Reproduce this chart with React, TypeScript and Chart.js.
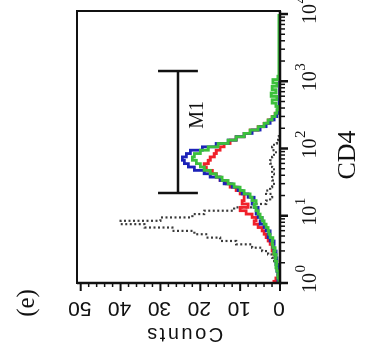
import { useEffect, useRef } from "react";
import { Chart, registerables } from "chart.js";

Chart.register(...registerables);

// CD4 channel positions (decimal exponents of the log axis)
const cd4Exp = [0, 0.05, 0.1, 0.15, 0.2, 0.25, 0.3, 0.35, 0.4, 0.45, 0.5, 0.55, 0.6, 0.65, 0.7, 0.75, 0.8, 0.85, 0.9, 0.95, 1, 1.05, 1.1, 1.15, 1.2, 1.25, 1.3, 1.35, 1.4, 1.45, 1.5, 1.55, 1.6, 1.65, 1.7, 1.75, 1.8, 1.85, 1.9, 1.95, 2, 2.05, 2.1, 2.15, 2.2, 2.25, 2.3, 2.35, 2.4, 2.45, 2.5, 2.55, 2.6, 2.65, 2.7, 2.75, 2.8, 2.85, 2.9, 2.95, 3, 3.05, 3.1, 3.15, 3.2, 3.4, 3.6, 3.8, 4];

const blueCounts = [0.3, 0.5, 0.3, 0.5, 0.8, 0.5, 1, 0.8, 1.2, 1, 1.5, 1.8, 1.5, 2.5, 3, 2.5, 3.5, 4, 5, 4.5, 5.5, 6, 5.5, 6.5, 7, 6.5, 8, 9.5, 10.5, 12, 14, 15, 17.5, 19, 21.5, 23, 24, 24.5, 23.5, 22.5, 19.5, 16, 13, 11, 9, 7, 5, 3.5, 2.5, 1.5, 0.8, 0.5, 0.3, 0.2, 0.2, 0.1, 0.1, 0.1, 0.1, 0.1, 0.1, 0.1, 0.1, 0.1, 0.1, 0.1, 0.1, 0.1, 0.1];

const greenCounts = [0, 0.3, 0.5, 0.3, 0.8, 1, 0.8, 1.2, 1, 1.5, 1.2, 1.8, 2, 1.8, 2.5, 2.8, 3, 3.5, 4, 4.5, 5, 5.5, 6, 6.5, 6, 7, 7.5, 9, 10, 11.5, 13, 14.5, 16, 17.5, 19, 20, 21, 22, 21.5, 20, 18, 15.5, 13, 11, 9, 7.5, 5.5, 4, 3, 2, 1.2, 0.8, 0.5, 1, 2, 0.8, 2.2, 1, 2, 0.8, 1.8, 0.5, 0.3, 0.3, 0.3, 0.3, 0.3, 0.3, 0.3];

const redCounts = [1.5, 1, 0.5, 0.3, 0.5, 0.5, 0.8, 1, 1.2, 1.5, 2, 2, 2.5, 3, 3.5, 4, 4.5, 5.5, 6.5, 6, 7, 8.5, 10, 8, 9.5, 9, 9, 10, 11, 12.5, 13.5, 15, 16, 17, 18.5, 19, 18, 17.5, 16.5, 16, 15, 14, 12.5, 11, 9, 7.5, 5.5, 4, 3, 2, 1.2, 0.5, 0.3, 0.1, 0.1, 0.1, 0.1, 0.1, 0.1, 0.1, 0.1, 0.1, 0.1, 0.1, 0.1, 0.1, 0.1, 0.1, 0.1];

const controlCounts = [0, 0, 0, 0.3, 0.5, 0.8, 1, 1.5, 2, 3, 4.5, 7, 11, 15, 18.5, 21.5, 27, 34, 40, 30, 22, 19, 11.5, 6, 3.5, 2.5, 2, 3.5, 2.5, 2, 1.5, 2, 1.5, 2, 1.5, 2, 2.5, 2, 1.5, 1, 2, 1.5, 0.8, 0.5, 0.3, 0, 0, 0, 0, 0, 0, 0, 0, 0, 0, 0, 0, 0, 0, 0, 0, 0, 0, 0, 0, 0, 0, 0, 0];

// Axes
const countTicks = [0, 10, 20, 30, 40, 50];
const countMinorTicks = [2, 4, 6, 8, 12, 14, 16, 18, 22, 24, 26, 28, 32, 34, 36, 38, 42, 44, 46, 48];
const cd4Decades = [1, 10, 100, 1000, 10000];
const cd4DecadeExp = ["0", "1", "2", "3", "4"];
const cd4MinorTicks = [2, 3, 4, 5, 6, 7, 8, 9, 20, 30, 40, 50, 60, 70, 80, 90, 200, 300, 400, 500, 600, 700, 800, 900, 2000, 3000, 4000, 5000, 6000, 7000, 8000, 9000];

// M1 marker
const m1Range = [21.8, 1420];
const m1Count = 25.6;
const m1CapCounts = [20.6, 30.6];
const m1LabelPos = [316, 19.3];

const W = 361;
const H = 371;

const toPoints = (vals: number[]) => vals.map((v, i) => ({ x: Math.pow(10, cd4Exp[i]), y: v }));

const flowAxes = {
  id: "flowAxes",
  afterDraw(chart: any) {
    const { ctx, chartArea: a, scales } = chart;
    const xs = scales.x;
    const ys = scales.y;
    const seg = (x1: number, y1: number, x2: number, y2: number) => {
      ctx.beginPath();
      ctx.moveTo(x1, y1);
      ctx.lineTo(x2, y2);
      ctx.stroke();
    };
    ctx.save();
    ctx.strokeStyle = "#111";
    ctx.fillStyle = "#111";
    // frame
    ctx.lineWidth = 2;
    ctx.strokeRect(a.left, a.top, a.right - a.left, a.bottom - a.top);
    ctx.lineWidth = 2.5;
    seg(a.left, a.top, a.left, a.bottom + 1.25);
    seg(a.left - 1.25, a.bottom, a.right, a.bottom);

    // count ticks
    ctx.lineWidth = 1.5;
    countMinorTicks.forEach((v) => {
      const p = ys.getPixelForValue(v);
      seg(a.left - 4, p, a.left, p);
    });
    ctx.lineWidth = 2;
    countTicks.forEach((v) => {
      const p = ys.getPixelForValue(v);
      seg(a.left - 8, p, a.left, p);
    });
    ctx.font = '21px "Liberation Sans", Arial, sans-serif';
    ctx.textAlign = "center";
    ctx.textBaseline = "alphabetic";
    countTicks.forEach((v) => {
      const p = ys.getPixelForValue(v);
      ctx.save();
      ctx.translate(a.left - 19, p - 1);
      ctx.rotate(-Math.PI / 2);
      ctx.fillText(String(v), 0, 0);
      ctx.restore();
    });
    // Counts title
    ctx.save();
    ctx.font = '20px "Liberation Sans", Arial, sans-serif';
    (ctx as any).letterSpacing = "2.5px";
    ctx.translate(a.left - 45, a.top + 107);
    ctx.rotate(-Math.PI / 2);
    ctx.fillText("Counts", 0, 0);
    ctx.restore();

    // CD4 ticks
    ctx.lineWidth = 1.5;
    cd4MinorTicks.forEach((v) => {
      const p = xs.getPixelForValue(v);
      seg(p, a.bottom, p, a.bottom + 5);
    });
    ctx.lineWidth = 2.5;
    cd4Decades.forEach((v) => {
      const p = xs.getPixelForValue(v);
      seg(p, a.bottom, p, a.bottom + 8);
    });
    cd4Decades.forEach((v, i) => {
      const p = xs.getPixelForValue(v);
      ctx.font = '20px "Liberation Serif", "Times New Roman", serif';
      ctx.textAlign = "center";
      const w = ctx.measureText("10").width;
      ctx.fillText("10", p, a.bottom + 36);
      ctx.font = '15px "Liberation Serif", "Times New Roman", serif';
      ctx.textAlign = "left";
      ctx.fillText(cd4DecadeExp[i], p + w / 2 + 0.5, a.bottom + 25);
    });
    ctx.font = '26px "Liberation Serif", "Times New Roman", serif';
    ctx.textAlign = "center";
    ctx.fillText("CD4", a.left + 128, a.bottom + 75);

    // M1 marker
    ctx.lineWidth = 2.5;
    const mx1 = xs.getPixelForValue(m1Range[0]);
    const mx2 = xs.getPixelForValue(m1Range[1]);
    const my = ys.getPixelForValue(m1Count);
    seg(mx1, my, mx2, my);
    [mx1, mx2].forEach((px) => seg(px, ys.getPixelForValue(m1CapCounts[0]), px, ys.getPixelForValue(m1CapCounts[1])));
    ctx.font = '20px "Liberation Serif", "Times New Roman", serif';
    ctx.textAlign = "center";
    ctx.fillText("M1", xs.getPixelForValue(m1LabelPos[0]), ys.getPixelForValue(m1LabelPos[1]));

    // panel label
    ctx.font = '25px "Liberation Serif", "Times New Roman", serif';
    ctx.textBaseline = "middle";
    ctx.fillText("(e)", 58, 27);
    ctx.restore();
  },
};

export default function App() {
  const ref = useRef<HTMLCanvasElement>(null);
  useEffect(() => {
    const chart = new Chart(ref.current as HTMLCanvasElement, {
      type: "line",
      data: {
        datasets: [
          {
            label: "Control",
            data: toPoints(controlCounts),
            borderColor: "#3a3a3a",
            borderWidth: 2.2,
            borderDash: [2, 2.5],
            stepped: "middle",
            pointRadius: 0,
            order: 3,
          },
          {
            label: "Red",
            data: toPoints(redCounts),
            borderColor: "#f0202a",
            borderWidth: 2.8,
            stepped: "middle",
            pointRadius: 0,
            order: 2,
          },
          {
            label: "Blue",
            data: toPoints(blueCounts),
            borderColor: "#1c22b8",
            borderWidth: 2.8,
            stepped: "middle",
            pointRadius: 0,
            order: 1,
          },
          {
            label: "Green",
            data: toPoints(greenCounts),
            borderColor: "#3cc03c",
            borderWidth: 2.8,
            stepped: "middle",
            pointRadius: 0,
            order: 0,
          },
        ],
      },
      options: {
        animation: false,
        responsive: false,
        events: [],
        layout: { padding: { left: 78, right: 11, top: 77, bottom: 91 } },
        plugins: { legend: { display: false }, tooltip: { enabled: false } },
        scales: {
          x: { type: "logarithmic", min: 1, max: 11090, display: false },
          y: { type: "linear", min: 0, max: 50.93, display: false },
        },
      },
      plugins: [flowAxes],
    });
    return () => chart.destroy();
  }, []);
  return (
    <div
      style={{
        position: "fixed",
        left: 0,
        top: 0,
        width: W,
        height: H,
        background: "#fff",
        transformOrigin: "0 0",
        transform: `translate(0px, ${W}px) rotate(-90deg)`,
      }}
    >
      <canvas ref={ref} width={W} height={H} style={{ display: "block", width: W, height: H }} />
    </div>
  );
}
